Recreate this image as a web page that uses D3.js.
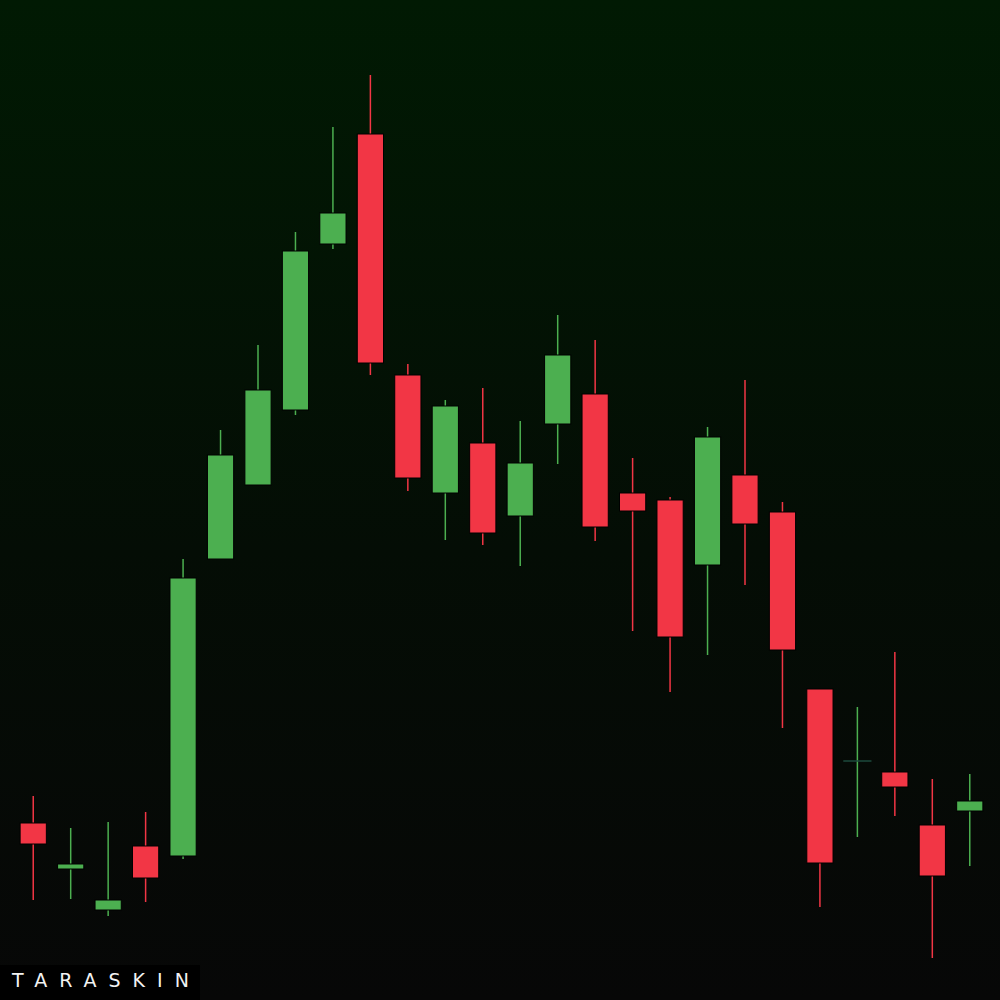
<!DOCTYPE html>
<html><head><meta charset="utf-8">
<script src="https://cdn.jsdelivr.net/npm/d3@7"></script>
<style>html,body{margin:0;padding:0;background:#000;}svg{display:block;}</style>
</head><body>
<svg id="chart" width="1000" height="1000"></svg>
<script>
// Candle index labels
const candles = d3.range(1, 27).map(String);
// OHLC values (price units)
const opens  = [17.7, 13.1, 9.0, 15.4, 14.4, 44.1, 51.5, 59.0, 75.6, 86.6, 62.5, 50.7, 55.7, 48.4, 57.6, 60.6, 50.7, 50.0, 43.5, 52.5, 48.8, 31.1, 23.9, 22.8, 17.5, 18.9];
const closes = [15.6, 13.6, 10.0, 12.2, 42.2, 54.5, 61.0, 74.9, 78.7, 63.7, 52.2, 59.4, 46.7, 53.7, 64.5, 47.3, 48.9, 36.3, 56.3, 47.6, 35.0, 13.7, 23.9, 21.3, 12.4, 19.9];
const highs  = [20.4, 17.2, 17.8, 18.8, 44.1, 57.0, 65.5, 76.8, 87.3, 92.5, 63.6, 60.0, 61.2, 57.9, 68.5, 66.0, 54.2, 50.3, 57.3, 62.0, 49.8, 31.1, 29.3, 34.8, 22.1, 22.6];
const lows   = [10.0, 10.1, 8.4, 9.8, 14.1, 44.1, 51.5, 58.5, 75.1, 62.5, 50.9, 46.0, 45.5, 43.4, 53.6, 45.9, 36.9, 30.8, 34.5, 41.5, 27.2, 9.3, 16.3, 18.4, 4.2, 13.4];
const watermark = "TARASKIN";

const W = 1000, H = 1000;
const svg = d3.select("#chart");
const defs = svg.append("defs");
const grad = defs.append("linearGradient").attr("id","bg").attr("x1",0).attr("y1",0).attr("x2",0).attr("y2",1);
grad.append("stop").attr("offset","0%").attr("stop-color","#011a03");
grad.append("stop").attr("offset","55%").attr("stop-color","#040d05");
grad.append("stop").attr("offset","100%").attr("stop-color","#070707");
svg.append("rect").attr("width",W).attr("height",H).attr("fill","url(#bg)");

const x = d3.scaleBand().domain(candles).range([14.5, 988.5]).paddingInner(0.3).paddingOuter(0.15);
const y = d3.scaleLinear().domain([0, 100]).range([1000, 0]);

const data = candles.map((c,i)=>({c, o:opens[i], h:highs[i], l:lows[i], cl:closes[i]}));
const green = "#4caf50", red = "#f23645";
const col = d => d.cl > d.o ? green : (d.cl < d.o ? red : green);

const g = svg.append("g");
const cg = g.selectAll("g.c").data(data).join("g").attr("class","c");
cg.append("line")
  .attr("x1", d => x(d.c) + x.bandwidth()/2).attr("x2", d => x(d.c) + x.bandwidth()/2)
  .attr("y1", d => y(d.h)).attr("y2", d => y(d.l))
  .attr("stroke", col).attr("stroke-width", 1.5);
cg.filter(d => d.o !== d.cl).append("rect")
  .attr("x", d => x(d.c)).attr("width", x.bandwidth())
  .attr("y", d => y(Math.max(d.o, d.cl)))
  .attr("height", d => Math.abs(y(d.o) - y(d.cl)))
  .attr("fill", col).attr("stroke", "#000").attr("stroke-width", 1);
cg.filter(d => d.o === d.cl).append("line")
  .attr("x1", d => x(d.c) - 1).attr("x2", d => x(d.c) + x.bandwidth() + 1)
  .attr("y1", d => y(d.o)).attr("y2", d => y(d.o))
  .attr("stroke", "#1d4a3c").attr("stroke-width", 1.5);

// watermark
svg.append("rect").attr("x",0).attr("y",965).attr("width",200).attr("height",35).attr("fill","#000");
svg.append("text").attr("x",12).attr("y",987).text(watermark)
  .attr("fill","#f2f2f2").attr("font-family","'DejaVu Sans', sans-serif")
  .attr("font-size",19).attr("letter-spacing",12).attr("font-weight","normal");
</script>
</body></html>
